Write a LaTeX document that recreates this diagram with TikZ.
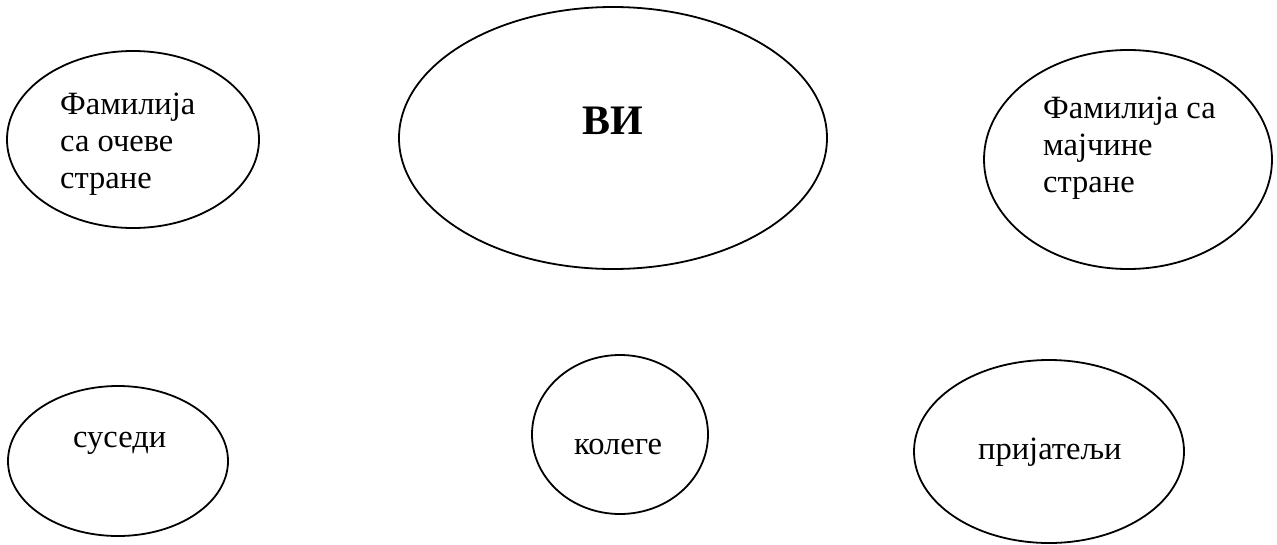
\documentclass[tikz,border=0pt]{standalone}
\usepackage{fontspec}
\setmainfont{Liberation Serif}
\usetikzlibrary{shapes.geometric}
\tikzset{
  circ/.style={draw, ellipse, line width=1.8pt, inner sep=0pt},
  lbl/.style={font=\rmfamily\fontsize{32.5}{37}\selectfont, inner sep=0pt, anchor=base west, align=left},
}
\begin{document}
\begin{tikzpicture}[x=1pt, y=-1pt]
  \useasboundingbox (0,0) rectangle (1277,544);
  % circles of relations
  \node[circ, minimum width=252, minimum height=177] (fo) at (133,139.5) {};
  \node[circ, minimum width=428, minimum height=262] (vi) at (613,138) {};
  \node[circ, minimum width=288, minimum height=219] (fm) at (1128,159.5) {};
  \node[circ, minimum width=220, minimum height=150] (su) at (118,461) {};
  \node[circ, minimum width=176, minimum height=159] (ko) at (620,434.5) {};
  \node[circ, minimum width=270, minimum height=183] (pr) at (1049,451.5) {};
  % labels (multi-line labels are placed by the baseline of their last line)
  \node[lbl] (tfo) at (60,188) {Фамилија\\са очеве\\стране};
  \node[font=\rmfamily\fontsize{42}{48}\selectfont\bfseries, inner sep=0pt, anchor=base] (tvi) at (613,134) {ВИ};
  \node[lbl] (tfm) at (1043,192) {Фамилија са\\мајчине\\стране};
  \node[lbl] (tsu) at (73,447) {суседи};
  \node[lbl] (tko) at (574,454) {колеге};
  \node[lbl] (tpr) at (978,459) {пријатељи};
\end{tikzpicture}
\end{document}
